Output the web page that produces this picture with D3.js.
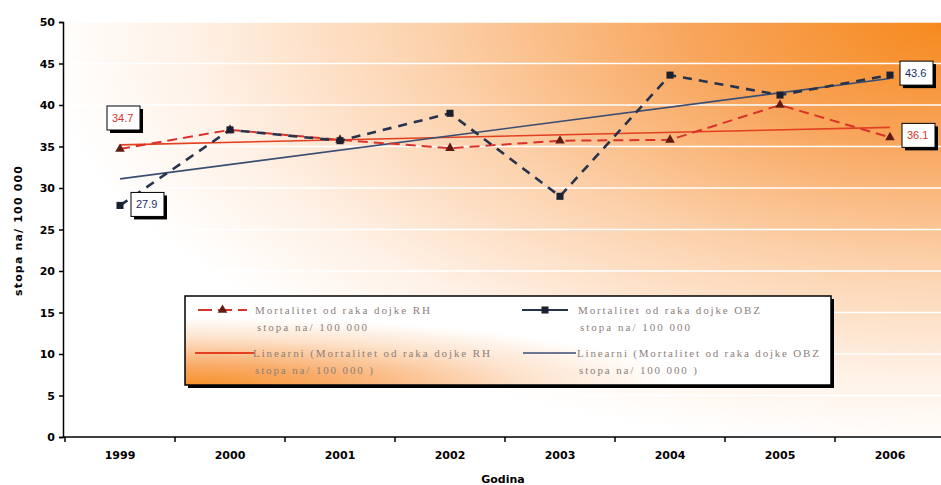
<!DOCTYPE html>
<html>
<head>
<meta charset="utf-8">
<script src="https://cdn.jsdelivr.net/npm/d3@7/dist/d3.min.js"></script>
<style>
	body { margin: 0; background: #fff; }
	svg { display: block; }
	.axis text { font-family: "DejaVu Sans", sans-serif; font-weight: bold; font-size: 11px; fill: #000; }
	.axis path, .axis line { stroke: #000; stroke-width: 1.5px; }
	.axis-title { font-family: "DejaVu Sans", sans-serif; font-weight: bold; font-size: 11px; }
	.legend-text { font-family: "Liberation Serif", serif; font-size: 11px; fill: #8c807a; }
	.value-label { font-family: "Liberation Sans Narrow", "Liberation Sans", sans-serif; font-size: 11px; }
</style>
</head>
<body>
<svg id="chart" width="941" height="485"></svg>
<script>

// years on the x axis
const years = ["1999", "2000", "2001", "2002", "2003", "2004", "2005", "2006"];

// mortality rate, breast cancer, per 100 000
const rh_values = [34.7, 37.0, 35.8, 34.8, 35.7, 35.8, 40.0, 36.1];
const obz_values = [27.9, 37.0, 35.7, 39.0, 29.0, 43.6, 41.2, 43.6];

// linear trend, read at first and last year
const rh_trend = [35.2, 37.3];
const obz_trend = [31.1, 43.2];

const y_ticks = [0, 5, 10, 15, 20, 25, 30, 35, 40, 45, 50];

const legend_rh = ["Mortalitet od raka dojke RH", "stopa na/ 100 000"];
const legend_obz = ["Mortalitet od raka dojke OBZ", "stopa na/ 100 000"];
const legend_rh_trend = ["Linearni (Mortalitet od raka dojke RH", "stopa na/ 100 000 )"];
const legend_obz_trend = ["Linearni (Mortalitet od raka dojke OBZ", "stopa na/ 100 000 )"];

const RED = "#d8332a";
const RED_TREND = "#e2401f";
const BLUE = "#27324c";
const BLUE_TREND = "#3a4d72";

function drawChart() {
	const svg = d3.select("#chart");

	const left = 63, top = 22, bottom = 437, right = 945;

	const x = d3.scaleBand().domain(years).range([left + 2, right]);
	const y = d3.scaleLinear().domain([0, 50]).range([bottom, top]);
	const cx = d => x(d) + x.bandwidth() / 2;

	const defs = svg.append("defs");

	// orange background coming from the top right corner
	const bg = defs.append("radialGradient")
		.attr("id", "plot-bg")
		.attr("cx", 1).attr("cy", 0).attr("fx", 1).attr("fy", 0)
		.attr("r", 1.12);
	[[0, "#f6891d"], [0.25, "#f8a45a"], [0.52, "#fcd1ab"], [0.76, "#fff1e6"], [0.92, "#ffffff"], [1, "#ffffff"]]
		.forEach(s => bg.append("stop").attr("offset", s[0]).attr("stop-color", s[1]));

	const lg = defs.append("radialGradient")
		.attr("id", "legend-bg")
		.attr("cx", 0).attr("cy", 1).attr("fx", 0).attr("fy", 1)
		.attr("r", 0.95);
	[[0, "#f7912a"], [0.25, "#f9ad6c"], [0.55, "#fde2cb"], [0.8, "#ffffff"], [1, "#ffffff"]]
		.forEach(s => lg.append("stop").attr("offset", s[0]).attr("stop-color", s[1]));

	svg.append("rect")
		.attr("x", left).attr("y", top)
		.attr("width", right - left).attr("height", bottom - top)
		.style("fill", "url(#plot-bg)");

	// white gridlines
	svg.append("g").selectAll("line")
		.data(y_ticks.filter(d => d > 0))
		.enter().append("line")
		.attr("x1", left).attr("x2", right)
		.attr("y1", d => y(d)).attr("y2", d => y(d))
		.style("stroke", "#fff").style("stroke-width", 1.5);

	// trend lines
	const trend = (vals, color) => svg.append("line")
		.attr("x1", cx(years[0])).attr("y1", y(vals[0]))
		.attr("x2", cx(years[years.length - 1])).attr("y2", y(vals[1]))
		.style("stroke", color).style("stroke-width", 1.6);
	trend(rh_trend, RED_TREND);
	trend(obz_trend, BLUE_TREND);

	const line = d3.line().x((d, i) => cx(years[i])).y(d => y(d));

	svg.append("path")
		.attr("d", line(rh_values))
		.style("fill", "none").style("stroke", RED)
		.style("stroke-width", 2).style("stroke-dasharray", "10,6");

	svg.append("path")
		.attr("d", line(obz_values))
		.style("fill", "none").style("stroke", BLUE)
		.style("stroke-width", 2.6).style("stroke-dasharray", "9,7");

	const tri = d3.symbol().type(d3.symbolTriangle).size(40);
	const sq = d3.symbol().type(d3.symbolSquare).size(50);

	svg.append("g").selectAll("path")
		.data(rh_values).enter().append("path")
		.attr("d", tri)
		.attr("transform", (d, i) => "translate(" + cx(years[i]) + "," + y(d) + ")")
		.style("fill", "#5e1c12");

	svg.append("g").selectAll("path")
		.data(obz_values).enter().append("path")
		.attr("d", sq)
		.attr("transform", (d, i) => "translate(" + cx(years[i]) + "," + y(d) + ")")
		.style("fill", "#1b2030");

	// boxed value labels at the first and last year
	const fmt = d3.format(".1f");
	function valueBox(px, py, text, color) {
		const g = svg.append("g").attr("transform", "translate(" + px + "," + py + ")");
		g.append("rect").attr("x", 3).attr("y", 3).attr("width", 33).attr("height", 24).style("fill", "#000");
		g.append("rect").attr("width", 33).attr("height", 24)
			.style("fill", "#fff").style("stroke", "#000").style("stroke-width", 1);
		g.append("text").attr("class", "value-label")
			.attr("x", 5).attr("y", 16).style("fill", color).text(text);
	}
	const last = years.length - 1;
	valueBox(cx(years[0]) - 13, y(rh_values[0]) - 43, fmt(rh_values[0]), RED);
	valueBox(cx(years[0]) + 11, y(obz_values[0]) - 13, fmt(obz_values[0]), "#1d2b66");
	valueBox(cx(years[last]) + 10, y(obz_values[last]) - 14, fmt(obz_values[last]), "#1d2b66");
	valueBox(cx(years[last]) + 12, y(rh_values[last]) - 14, fmt(rh_values[last]), RED);

	// axes
	const yAxis = d3.axisLeft(y).tickValues(y_ticks).tickSize(4).tickPadding(4);
	svg.append("g").attr("class", "axis")
		.attr("transform", "translate(" + left + ",0)")
		.call(yAxis);

	const xAxis = d3.axisBottom(x).tickSize(0).tickPadding(14);
	const xg = svg.append("g").attr("class", "axis")
		.attr("transform", "translate(0," + bottom + ")")
		.call(xAxis);
	xg.select(".domain").attr("d", "M" + left + ",0H" + right);
	xg.selectAll(".boundary")
		.data(years).enter().append("line")
		.attr("class", "boundary")
		.attr("x1", d => x(d)).attr("x2", d => x(d))
		.attr("y1", 0).attr("y2", 5);

	svg.append("text").attr("class", "axis-title")
		.attr("x", 503).attr("y", 483)
		.attr("text-anchor", "middle")
		.text("Godina");

	svg.append("text").attr("class", "axis-title")
		.attr("transform", "translate(22,231) rotate(-90)")
		.attr("text-anchor", "middle")
		.attr("textLength", 130)
		.text("stopa na/ 100 000");

	// legend
	const lx = 185, ly = 296, lw = 646, lh = 89;
	svg.append("rect").attr("x", lx + 3).attr("y", ly + 3)
		.attr("width", lw).attr("height", lh).style("fill", "#000");
	svg.append("rect").attr("x", lx).attr("y", ly)
		.attr("width", lw).attr("height", lh)
		.style("fill", "url(#legend-bg)")
		.style("stroke", "#000").style("stroke-width", 1.5);

	function legendItem(sx1, sx2, sy, color, dash, width, marker, markerColor, tx, lines, widths) {
		svg.append("line")
			.attr("x1", sx1).attr("x2", sx2).attr("y1", sy).attr("y2", sy)
			.style("stroke", color).style("stroke-width", width)
			.style("stroke-dasharray", dash);
		if (marker) {
			svg.append("path").attr("d", marker)
				.attr("transform", "translate(" + ((sx1 + sx2) / 2) + "," + sy + ")")
				.style("fill", markerColor);
		}
		lines.forEach((t, i) => {
			svg.append("text").attr("class", "legend-text")
				.attr("x", tx + (i ? 2 : 0)).attr("y", sy + 4 + i * 17)
				.attr("textLength", widths[i]).attr("lengthAdjust", "spacing")
				.text(t);
		});
	}
	legendItem(198, 247, 310, RED, "14,6", 1.8, tri, "#5e1c12", 255, legend_rh, [175, 110]);
	legendItem(522, 568, 310, BLUE, "none", 2, sq, "#1b2030", 578, legend_obz, [182, 110]);
	legendItem(195, 255, 353, RED_TREND, "none", 1.8, null, null, 253, legend_rh_trend, [237, 118]);
	legendItem(523, 576, 353, BLUE_TREND, "none", 1.6, null, null, 577, legend_obz_trend, [242, 118]);
}

function whenDocumentLoaded(action) {
	if (document.readyState === "loading") {
		document.addEventListener("DOMContentLoaded", action);
	} else {
		action();
	}
}

whenDocumentLoaded(drawChart);
</script>
</body>
</html>
